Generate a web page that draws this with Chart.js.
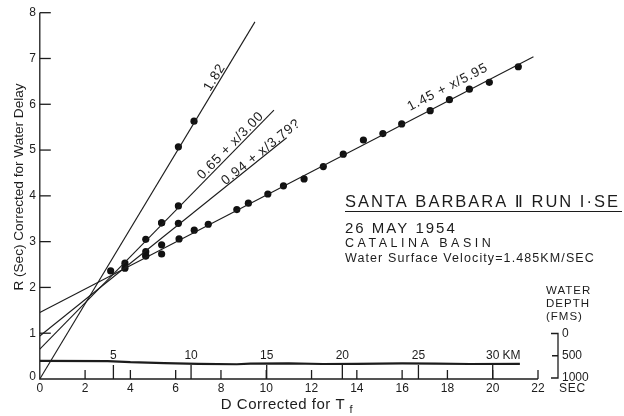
<!DOCTYPE html>
<html>
<head>
<meta charset="utf-8">
<script src="https://cdn.jsdelivr.net/npm/chart.js@4"></script>
<style>
  body { margin: 0; background: #fff; }
  canvas { display: block; }
</style>
</head>
<body>
<canvas id="seisChart" width="624" height="416"></canvas>
<script>
// axis ticks
var xTicks = [0, 2, 4, 6, 8, 10, 12, 14, 16, 18, 20, 22];
var yTicks = [0, 1, 2, 3, 4, 5, 6, 7, 8];

// travel time points (D sec, R sec)
var pointsD = [3.13, 3.76, 3.76, 4.68, 4.68, 4.68, 4.68, 5.38, 5.38, 5.38, 6.12, 6.12, 6.15,
  6.12, 6.81, 6.82, 7.44, 8.70, 9.21, 10.07, 10.76, 11.67, 12.52, 13.40, 14.29, 15.15,
  15.98, 17.24, 18.09, 18.97, 19.85, 21.13, 5.38];
var pointsR = [2.36, 2.53, 2.42, 3.05, 2.78, 2.69, 2.69, 3.41, 2.93, 2.73, 3.78, 3.40, 3.06,
  5.07, 5.63, 3.25, 3.38, 3.70, 3.84, 4.04, 4.22, 4.37, 4.64, 4.91, 5.22, 5.36,
  5.57, 5.86, 6.10, 6.33, 6.48, 6.82, 3.41];

// fitted lines: label and end points
var fitLabels = ['1.82', '0.65 + x/3.00', '0.94 + x/3.79?', '1.45 + x/5.95'];
var fitStartD = [0, 0, 0, 0];
var fitStartR = [0, 0.65, 0.94, 1.45];
var fitEndD = [9.5, 10.34, 10.9, 21.8];
var fitEndR = [7.8, 5.87, 5.27, 7.04];

// water depth profile (fathoms) along the run
var depthD = [0, 3.0, 4.0, 5.5, 7.0, 8.7, 9.3, 11.0, 12.5, 14.0, 16.0, 17.5, 19.0, 21.2];
var depthFms = [615, 620, 645, 665, 680, 690, 675, 670, 685, 680, 670, 675, 685, 680];
var depthTicks = [0, 500, 1000];

// distance scale in km and where it falls in seconds
var kmLabels = ['5', '10', '15', '20', '25', '30'];
var kmAtD = [3.25, 6.68, 10.02, 13.36, 16.72, 20.0];

var ink = '#1c1c1c';
var font = '"Liberation Sans", "DejaVu Sans", Arial, sans-serif';

var fitSets = fitLabels.map(function (lab, i) {
  return {
    label: lab,
    data: [{ x: fitStartD[i], y: fitStartR[i] }, { x: fitEndD[i], y: fitEndR[i] }],
    showLine: true,
    borderColor: ink,
    borderWidth: 1.1,
    pointRadius: 0
  };
});

function spaced(ctx, text, x, y, px) {
  ctx.letterSpacing = px + 'px';
  ctx.fillText(text, x, y);
  ctx.letterSpacing = '0px';
}

var decorations = {
  id: 'decorations',
  afterDraw: function (chart) {
    var ctx = chart.ctx;
    var xs = chart.scales.x, ys = chart.scales.y, ds = chart.scales.y2;
    var x0 = xs.getPixelForValue(0), y0 = ys.getPixelForValue(0);
    ctx.save();
    ctx.strokeStyle = ink;
    ctx.fillStyle = ink;
    ctx.lineWidth = 1.3;

    // axes
    ctx.beginPath();
    ctx.moveTo(x0, ys.getPixelForValue(8));
    ctx.lineTo(x0, y0);
    ctx.lineTo(xs.getPixelForValue(22), y0);
    ctx.stroke();

    // y ticks (inside) and labels
    ctx.font = '12px ' + font;
    ctx.textAlign = 'right';
    ctx.textBaseline = 'middle';
    yTicks.forEach(function (v) {
      var py = ys.getPixelForValue(v);
      if (v > 0) {
        ctx.beginPath();
        ctx.moveTo(x0, py);
        ctx.lineTo(x0 + 11, py);
        ctx.stroke();
      }
      ctx.fillText(String(v), x0 - 4, py - (v === 0 ? 2 : 0));
    });

    // x ticks (inside) and labels
    ctx.textAlign = 'center';
    xTicks.forEach(function (v) {
      var px = xs.getPixelForValue(v);
      if (v > 0) {
        ctx.beginPath();
        ctx.moveTo(px, y0);
        ctx.lineTo(px, y0 - 9);
        ctx.stroke();
      }
      ctx.fillText(String(v), px, y0 + 10);
    });
    ctx.textAlign = 'left';
    spaced(ctx, 'SEC', xs.getPixelForValue(22) + 21, y0 + 10, 0.8);

    // km scale along depth profile
    ctx.font = '12px ' + font;
    ctx.textBaseline = 'alphabetic';
    kmAtD.forEach(function (d, i) {
      var px = xs.getPixelForValue(d);
      ctx.beginPath();
      ctx.moveTo(px, y0 - 14);
      ctx.lineTo(px, y0);
      ctx.stroke();
      ctx.textAlign = 'center';
      var w = ctx.measureText(kmLabels[i]).width;
      ctx.fillText(kmLabels[i], px, y0 - 20);
      if (i === kmAtD.length - 1) {
        ctx.textAlign = 'left';
        ctx.fillText('KM', px + w / 2 + 3, y0 - 20);
      }
    });

    // water depth bracket
    var bx = 558;
    var dTop = ds.getPixelForValue(0), dBot = ds.getPixelForValue(1000);
    ctx.beginPath();
    ctx.moveTo(bx - 7, dTop);
    ctx.lineTo(bx, dTop);
    ctx.lineTo(bx, dBot);
    ctx.lineTo(bx - 7, dBot);
    ctx.moveTo(bx - 6, ds.getPixelForValue(500));
    ctx.lineTo(bx, ds.getPixelForValue(500));
    ctx.stroke();
    ctx.font = '12px ' + font;
    ctx.textAlign = 'left';
    ctx.textBaseline = 'middle';
    depthTicks.forEach(function (v) {
      ctx.fillText(String(v), bx + 4, ds.getPixelForValue(v));
    });
    ctx.font = '11.5px ' + font;
    ctx.textBaseline = 'alphabetic';
    ['WATER', 'DEPTH', '(FMS)'].forEach(function (t, i) {
      spaced(ctx, t, 546, 294 + i * 13, 1);
    });

    // fit line labels, rotated along each line
    var offs = [2, 2.5, 1, 8.5];
    var along = [7.94, 8.62, 9.9, 18.26];
    ctx.font = '13.5px ' + font;
    ctx.textAlign = 'center';
    fitLabels.forEach(function (lab, i) {
      var ax = xs.getPixelForValue(fitStartD[i]), ay = ys.getPixelForValue(fitStartR[i]);
      var bx2 = xs.getPixelForValue(fitEndD[i]), by = ys.getPixelForValue(fitEndR[i]);
      var ang = Math.atan2(by - ay, bx2 - ax);
      var t = (along[i] - fitStartD[i]) / (fitEndD[i] - fitStartD[i]);
      ctx.save();
      ctx.translate(ax + (bx2 - ax) * t, ay + (by - ay) * t);
      ctx.rotate(ang);
      spaced(ctx, lab, 0, -offs[i], 0.8);
      ctx.restore();
    });

    // title block
    ctx.textAlign = 'left';
    ctx.font = '16.5px ' + font;
    spaced(ctx, 'SANTA BARBARA \u2161 RUN I\u00b7SE', 345, 207, 2);
    ctx.lineWidth = 1.2;
    ctx.beginPath();
    ctx.moveTo(345, 211.5);
    ctx.lineTo(622, 211.5);
    ctx.stroke();
    ctx.font = '15px ' + font;
    spaced(ctx, '26 MAY 1954', 345, 233, 2);
    ctx.font = '12.5px ' + font;
    spaced(ctx, 'CATALINA BASIN', 345, 247, 3.5);
    ctx.font = '12.5px ' + font;
    spaced(ctx, 'Water Surface Velocity=1.485KM/SEC', 345, 262, 1.1);

    // axis titles
    ctx.font = '15px ' + font;
    ctx.textAlign = 'center';
    spaced(ctx, 'D Corrected for T', 283, 409, 0.5);
    ctx.font = '11px ' + font;
    ctx.fillText('f', 351, 413);
    ctx.save();
    ctx.translate(19, 187);
    ctx.rotate(-Math.PI / 2);
    ctx.font = '13.6px ' + font;
    ctx.textBaseline = 'middle';
    ctx.fillText('R (Sec) Corrected for Water Delay', 0, 0);
    ctx.restore();

    ctx.restore();
  }
};

new Chart(document.getElementById('seisChart').getContext('2d'), {
  type: 'scatter',
  data: {
    datasets: fitSets.concat([
      {
        label: 'Water depth',
        data: depthD.map(function (d, i) { return { x: d, y: depthFms[i] }; }),
        yAxisID: 'y2',
        showLine: true,
        borderColor: ink,
        borderWidth: 2.2,
        pointRadius: 0
      },
      {
        label: 'Arrivals',
        data: pointsD.map(function (d, i) { return { x: d, y: pointsR[i] }; }),
        pointRadius: 3.6,
        pointBackgroundColor: '#111',
        pointBorderWidth: 0
      }
    ])
  },
  options: {
    responsive: false,
    animation: false,
    layout: { padding: { left: 39.8, right: 86, top: 12.7, bottom: 37 } },
    scales: {
      x: { type: 'linear', min: 0, max: 22, display: false },
      y: { min: 0, max: 8, display: false },
      y2: { min: -7209, max: 1022, reverse: true, display: false }
    },
    plugins: {
      legend: { display: false },
      tooltip: { enabled: false }
    }
  },
  plugins: [decorations]
});
</script>
</body>
</html>
